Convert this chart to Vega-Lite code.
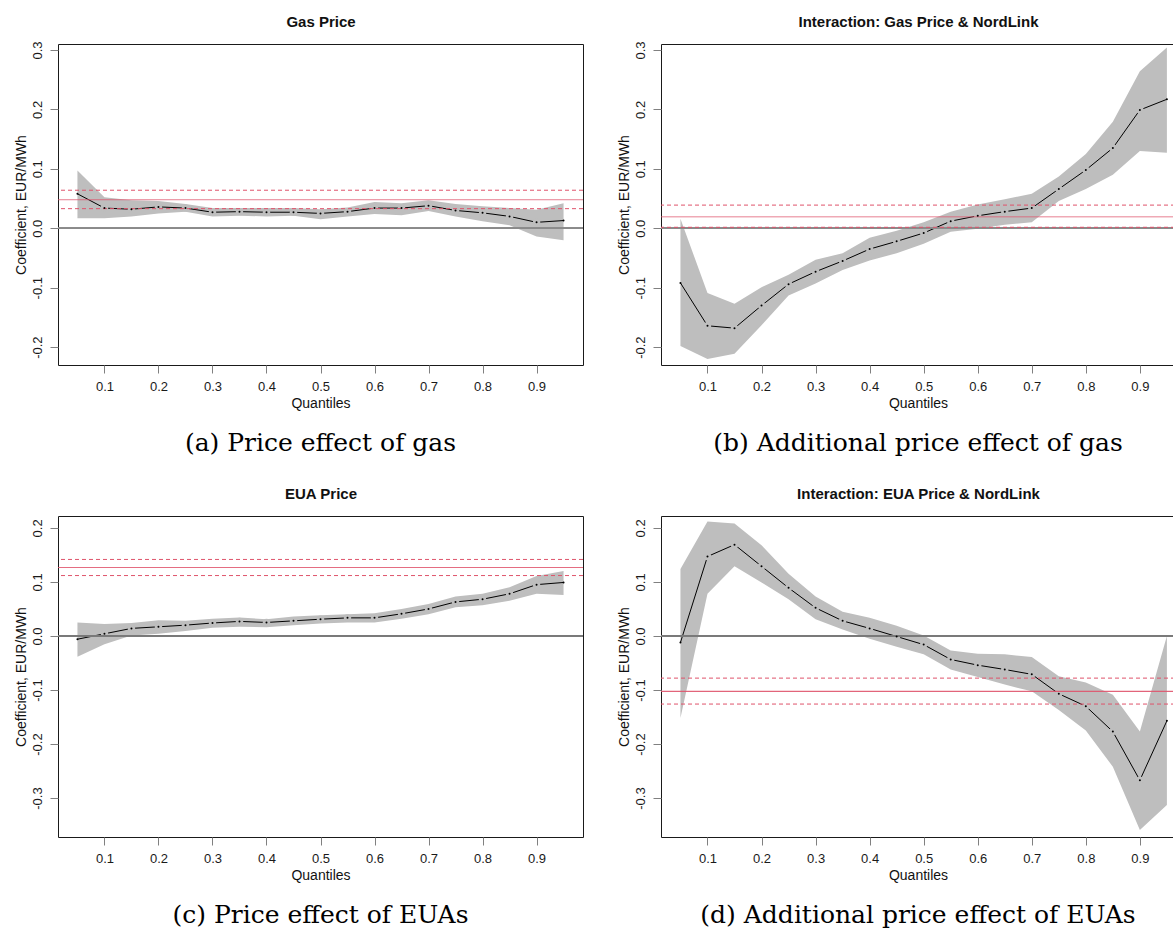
{
  "$schema": "https://vega.github.io/schema/vega-lite/v6.json",
  "padding": {"left": 14, "top": 13, "right": 0, "bottom": 0},
  "background": "white",
  "datasets": {
    "a": [
      {"q": 0.05, "est": 0.058, "lo": 0.017, "hi": 0.097},
      {"q": 0.10, "est": 0.034, "lo": 0.017, "hi": 0.052},
      {"q": 0.15, "est": 0.032, "lo": 0.020, "hi": 0.047},
      {"q": 0.20, "est": 0.036, "lo": 0.025, "hi": 0.046},
      {"q": 0.25, "est": 0.034, "lo": 0.028, "hi": 0.041},
      {"q": 0.30, "est": 0.027, "lo": 0.020, "hi": 0.034},
      {"q": 0.35, "est": 0.028, "lo": 0.021, "hi": 0.034},
      {"q": 0.40, "est": 0.027, "lo": 0.020, "hi": 0.034},
      {"q": 0.45, "est": 0.027, "lo": 0.021, "hi": 0.034},
      {"q": 0.50, "est": 0.025, "lo": 0.015, "hi": 0.032},
      {"q": 0.55, "est": 0.028, "lo": 0.020, "hi": 0.035},
      {"q": 0.60, "est": 0.034, "lo": 0.024, "hi": 0.044},
      {"q": 0.65, "est": 0.034, "lo": 0.022, "hi": 0.042},
      {"q": 0.70, "est": 0.038, "lo": 0.029, "hi": 0.047},
      {"q": 0.75, "est": 0.030, "lo": 0.020, "hi": 0.041},
      {"q": 0.80, "est": 0.026, "lo": 0.012, "hi": 0.037},
      {"q": 0.85, "est": 0.020, "lo": 0.005, "hi": 0.034},
      {"q": 0.90, "est": 0.010, "lo": -0.014, "hi": 0.031},
      {"q": 0.95, "est": 0.013, "lo": -0.020, "hi": 0.042}
    ],
    "ra": [{"ols": 0.048, "ols_lo": 0.033, "ols_hi": 0.064}],
    "b": [
      {"q": 0.05, "est": -0.092, "lo": -0.198, "hi": 0.016},
      {"q": 0.10, "est": -0.164, "lo": -0.220, "hi": -0.109},
      {"q": 0.15, "est": -0.168, "lo": -0.211, "hi": -0.127},
      {"q": 0.20, "est": -0.130, "lo": -0.163, "hi": -0.099},
      {"q": 0.25, "est": -0.094, "lo": -0.113, "hi": -0.078},
      {"q": 0.30, "est": -0.073, "lo": -0.093, "hi": -0.053},
      {"q": 0.35, "est": -0.055, "lo": -0.070, "hi": -0.042},
      {"q": 0.40, "est": -0.035, "lo": -0.054, "hi": -0.016},
      {"q": 0.45, "est": -0.022, "lo": -0.042, "hi": -0.004},
      {"q": 0.50, "est": -0.008, "lo": -0.026, "hi": 0.010},
      {"q": 0.55, "est": 0.012, "lo": -0.006, "hi": 0.028},
      {"q": 0.60, "est": 0.021, "lo": -0.001, "hi": 0.040},
      {"q": 0.65, "est": 0.028, "lo": 0.006, "hi": 0.049},
      {"q": 0.70, "est": 0.034, "lo": 0.010, "hi": 0.058},
      {"q": 0.75, "est": 0.066, "lo": 0.046, "hi": 0.087},
      {"q": 0.80, "est": 0.098, "lo": 0.066, "hi": 0.125},
      {"q": 0.85, "est": 0.135, "lo": 0.090, "hi": 0.179},
      {"q": 0.90, "est": 0.199, "lo": 0.130, "hi": 0.264},
      {"q": 0.95, "est": 0.217, "lo": 0.127, "hi": 0.304}
    ],
    "rb": [{"ols": 0.0196, "ols_lo": 0.0017, "ols_hi": 0.039}],
    "c": [
      {"q": 0.05, "est": -0.006, "lo": -0.0385, "hi": 0.025},
      {"q": 0.10, "est": 0.004, "lo": -0.0155, "hi": 0.022},
      {"q": 0.15, "est": 0.014, "lo": 0.001, "hi": 0.024},
      {"q": 0.20, "est": 0.017, "lo": 0.004, "hi": 0.029},
      {"q": 0.25, "est": 0.020, "lo": 0.009, "hi": 0.028},
      {"q": 0.30, "est": 0.024, "lo": 0.015, "hi": 0.032},
      {"q": 0.35, "est": 0.027, "lo": 0.017, "hi": 0.034},
      {"q": 0.40, "est": 0.025, "lo": 0.016, "hi": 0.031},
      {"q": 0.45, "est": 0.028, "lo": 0.020, "hi": 0.036},
      {"q": 0.50, "est": 0.031, "lo": 0.023, "hi": 0.0385},
      {"q": 0.55, "est": 0.0335, "lo": 0.025, "hi": 0.040},
      {"q": 0.60, "est": 0.0335, "lo": 0.025, "hi": 0.042},
      {"q": 0.65, "est": 0.041, "lo": 0.032, "hi": 0.050},
      {"q": 0.70, "est": 0.050, "lo": 0.040, "hi": 0.059},
      {"q": 0.75, "est": 0.063, "lo": 0.053, "hi": 0.073},
      {"q": 0.80, "est": 0.068, "lo": 0.057, "hi": 0.078},
      {"q": 0.85, "est": 0.078, "lo": 0.065, "hi": 0.090},
      {"q": 0.90, "est": 0.095, "lo": 0.078, "hi": 0.111},
      {"q": 0.95, "est": 0.099, "lo": 0.076, "hi": 0.120}
    ],
    "rc": [{"ols": 0.1267, "ols_lo": 0.1118, "ols_hi": 0.1416}],
    "d": [
      {"q": 0.05, "est": -0.012, "lo": -0.152, "hi": 0.124},
      {"q": 0.10, "est": 0.147, "lo": 0.078, "hi": 0.212},
      {"q": 0.15, "est": 0.169, "lo": 0.129, "hi": 0.208},
      {"q": 0.20, "est": 0.129, "lo": 0.099, "hi": 0.168},
      {"q": 0.25, "est": 0.089, "lo": 0.068, "hi": 0.115},
      {"q": 0.30, "est": 0.052, "lo": 0.031, "hi": 0.073},
      {"q": 0.35, "est": 0.028, "lo": 0.012, "hi": 0.045},
      {"q": 0.40, "est": 0.014, "lo": -0.005, "hi": 0.0335},
      {"q": 0.45, "est": -0.001, "lo": -0.020, "hi": 0.019},
      {"q": 0.50, "est": -0.016, "lo": -0.034, "hi": 0.001},
      {"q": 0.55, "est": -0.0435, "lo": -0.062, "hi": -0.027},
      {"q": 0.60, "est": -0.054, "lo": -0.076, "hi": -0.033},
      {"q": 0.65, "est": -0.062, "lo": -0.090, "hi": -0.034},
      {"q": 0.70, "est": -0.071, "lo": -0.1025, "hi": -0.039},
      {"q": 0.75, "est": -0.107, "lo": -0.137, "hi": -0.0745},
      {"q": 0.80, "est": -0.130, "lo": -0.175, "hi": -0.086},
      {"q": 0.85, "est": -0.177, "lo": -0.242, "hi": -0.109},
      {"q": 0.90, "est": -0.267, "lo": -0.359, "hi": -0.177},
      {"q": 0.95, "est": -0.157, "lo": -0.313, "hi": 0.000}
    ],
    "rd": [{"ols": -0.1025, "ols_lo": -0.126, "ols_hi": -0.078}]
  },
  "vconcat": [
    {
      "hconcat": [
        {
          "title": {"text": "(a) Price effect of gas"},
          "width": 525, "height": 321,
          "data": {"name": "a"},
          "resolve": {"axis": {"x": "independent"}},
          "layer": [
            {"mark": {"type": "area", "color": "#bebebe", "opacity": 1},
             "encoding": {
               "x": {"field": "q", "type": "quantitative", "scale": {"domain": [0.014, 0.986], "nice": false, "zero": false},
                     "axis": {"title": "Quantiles", "values": [0.1,0.2,0.3,0.4,0.5,0.6,0.7,0.8,0.9], "labelExpr": "format(datum.value, '.1f')"}},
               "y": {"field": "lo", "type": "quantitative", "scale": {"domain": [-0.23, 0.31], "nice": false, "zero": false},
                     "axis": {"title": "Coefficient, EUR/MWh", "values": [-0.2,-0.1,0,0.1,0.2,0.3], "labelExpr": "datum.value < 0 ? '-' + format(-datum.value, '.1f') : format(datum.value, '.1f')"}},
               "y2": {"field": "hi"}}},
            {"mark": {"type": "line", "color": "black", "strokeWidth": 1},
             "encoding": {"x": {"field": "q", "type": "quantitative", "axis": {"orient": "top", "title": "Gas Price", "labels": false, "ticks": false, "domain": false, "titleFontWeight": "bold", "titleFontSize": 15, "titlePadding": 15}}, "y": {"field": "est", "type": "quantitative"}}},
            {"transform": [{"filter": "datum.q > 0.06 && datum.q < 0.94"}],
             "mark": {"type": "point", "filled": true, "color": "#bebebe", "size": 55, "opacity": 1},
             "encoding": {"x": {"field": "q", "type": "quantitative", "axis": null}, "y": {"field": "est", "type": "quantitative"}}},
            {"mark": {"type": "rule", "color": "#8a8a8a", "strokeWidth": 1.3},
             "encoding": {"y": {"datum": 0}}},
            {"data": {"name": "ra"}, "mark": {"type": "rule", "color": "#df536b", "strokeWidth": 1, "opacity": 0.75},
             "encoding": {"y": {"field": "ols", "type": "quantitative"}}},
            {"data": {"name": "ra"}, "mark": {"type": "rule", "color": "#df536b", "strokeWidth": 1, "strokeDash": [4, 3]},
             "encoding": {"y": {"field": "ols_lo", "type": "quantitative"}}},
            {"data": {"name": "ra"}, "mark": {"type": "rule", "color": "#df536b", "strokeWidth": 1, "strokeDash": [4, 3]},
             "encoding": {"y": {"field": "ols_hi", "type": "quantitative"}}},
            {"mark": {"type": "point", "filled": true, "color": "black", "size": 4, "opacity": 1},
             "encoding": {"x": {"field": "q", "type": "quantitative", "axis": null}, "y": {"field": "est", "type": "quantitative"}}}
          ]
        },
        {
          "title": {"text": "(b) Additional price effect of gas"},
          "width": 514, "height": 321,
          "data": {"name": "b"},
          "resolve": {"axis": {"x": "independent"}},
          "layer": [
            {"mark": {"type": "area", "color": "#bebebe", "opacity": 1},
             "encoding": {
               "x": {"field": "q", "type": "quantitative", "scale": {"domain": [0.014, 0.965], "nice": false, "zero": false},
                     "axis": {"title": "Quantiles", "values": [0.1,0.2,0.3,0.4,0.5,0.6,0.7,0.8,0.9], "labelExpr": "format(datum.value, '.1f')"}},
               "y": {"field": "lo", "type": "quantitative", "scale": {"domain": [-0.23, 0.31], "nice": false, "zero": false},
                     "axis": {"title": "Coefficient, EUR/MWh", "values": [-0.2,-0.1,0,0.1,0.2,0.3], "labelExpr": "datum.value < 0 ? '-' + format(-datum.value, '.1f') : format(datum.value, '.1f')"}},
               "y2": {"field": "hi"}}},
            {"mark": {"type": "line", "color": "black", "strokeWidth": 1},
             "encoding": {"x": {"field": "q", "type": "quantitative", "axis": {"orient": "top", "title": "Interaction: Gas Price & NordLink", "labels": false, "ticks": false, "domain": false, "titleFontWeight": "bold", "titleFontSize": 15, "titlePadding": 15}}, "y": {"field": "est", "type": "quantitative"}}},
            {"transform": [{"filter": "datum.q > 0.06 && datum.q < 0.94"}],
             "mark": {"type": "point", "filled": true, "color": "#bebebe", "size": 55, "opacity": 1},
             "encoding": {"x": {"field": "q", "type": "quantitative", "axis": null}, "y": {"field": "est", "type": "quantitative"}}},
            {"mark": {"type": "rule", "color": "#8a8a8a", "strokeWidth": 1.3},
             "encoding": {"y": {"datum": 0}}},
            {"data": {"name": "rb"}, "mark": {"type": "rule", "color": "#df536b", "strokeWidth": 1.5, "opacity": 0.5},
             "encoding": {"y": {"field": "ols", "type": "quantitative"}}},
            {"data": {"name": "rb"}, "mark": {"type": "rule", "color": "#df536b", "strokeWidth": 1, "strokeDash": [4, 3]},
             "encoding": {"y": {"field": "ols_lo", "type": "quantitative"}}},
            {"data": {"name": "rb"}, "mark": {"type": "rule", "color": "#df536b", "strokeWidth": 1, "strokeDash": [4, 3]},
             "encoding": {"y": {"field": "ols_hi", "type": "quantitative"}}},
            {"mark": {"type": "point", "filled": true, "color": "black", "size": 4, "opacity": 1},
             "encoding": {"x": {"field": "q", "type": "quantitative", "axis": null}, "y": {"field": "est", "type": "quantitative"}}}
          ]
        }
      ],
      "spacing": 32
    },
    {
      "hconcat": [
        {
          "title": {"text": "(c) Price effect of EUAs"},
          "width": 525, "height": 321,
          "data": {"name": "c"},
          "resolve": {"axis": {"x": "independent"}},
          "layer": [
            {"mark": {"type": "area", "color": "#bebebe", "opacity": 1},
             "encoding": {
               "x": {"field": "q", "type": "quantitative", "scale": {"domain": [0.014, 0.986], "nice": false, "zero": false},
                     "axis": {"title": "Quantiles", "values": [0.1,0.2,0.3,0.4,0.5,0.6,0.7,0.8,0.9], "labelExpr": "format(datum.value, '.1f')"}},
               "y": {"field": "lo", "type": "quantitative", "scale": {"domain": [-0.372, 0.222], "nice": false, "zero": false},
                     "axis": {"title": "Coefficient, EUR/MWh", "values": [-0.3,-0.2,-0.1,0,0.1,0.2], "labelExpr": "datum.value < 0 ? '-' + format(-datum.value, '.1f') : format(datum.value, '.1f')"}},
               "y2": {"field": "hi"}}},
            {"mark": {"type": "line", "color": "black", "strokeWidth": 1},
             "encoding": {"x": {"field": "q", "type": "quantitative", "axis": {"orient": "top", "title": "EUA Price", "labels": false, "ticks": false, "domain": false, "titleFontWeight": "bold", "titleFontSize": 15, "titlePadding": 15}}, "y": {"field": "est", "type": "quantitative"}}},
            {"transform": [{"filter": "datum.q > 0.06 && datum.q < 0.94"}],
             "mark": {"type": "point", "filled": true, "color": "#bebebe", "size": 55, "opacity": 1},
             "encoding": {"x": {"field": "q", "type": "quantitative", "axis": null}, "y": {"field": "est", "type": "quantitative"}}},
            {"mark": {"type": "rule", "color": "#7a7a7a", "strokeWidth": 1.2},
             "encoding": {"y": {"datum": 0}}},
            {"data": {"name": "rc"}, "mark": {"type": "rule", "color": "#df536b", "strokeWidth": 1, "opacity": 0.85},
             "encoding": {"y": {"field": "ols", "type": "quantitative"}}},
            {"data": {"name": "rc"}, "mark": {"type": "rule", "color": "#df536b", "strokeWidth": 1, "strokeDash": [4, 3]},
             "encoding": {"y": {"field": "ols_lo", "type": "quantitative"}}},
            {"data": {"name": "rc"}, "mark": {"type": "rule", "color": "#df536b", "strokeWidth": 1, "strokeDash": [4, 3]},
             "encoding": {"y": {"field": "ols_hi", "type": "quantitative"}}},
            {"mark": {"type": "point", "filled": true, "color": "black", "size": 4, "opacity": 1},
             "encoding": {"x": {"field": "q", "type": "quantitative", "axis": null}, "y": {"field": "est", "type": "quantitative"}}}
          ]
        },
        {
          "title": {"text": "(d) Additional price effect of EUAs"},
          "width": 514, "height": 321,
          "data": {"name": "d"},
          "resolve": {"axis": {"x": "independent"}},
          "layer": [
            {"mark": {"type": "area", "color": "#bebebe", "opacity": 1},
             "encoding": {
               "x": {"field": "q", "type": "quantitative", "scale": {"domain": [0.014, 0.965], "nice": false, "zero": false},
                     "axis": {"title": "Quantiles", "values": [0.1,0.2,0.3,0.4,0.5,0.6,0.7,0.8,0.9], "labelExpr": "format(datum.value, '.1f')"}},
               "y": {"field": "lo", "type": "quantitative", "scale": {"domain": [-0.372, 0.222], "nice": false, "zero": false},
                     "axis": {"title": "Coefficient, EUR/MWh", "values": [-0.3,-0.2,-0.1,0,0.1,0.2], "labelExpr": "datum.value < 0 ? '-' + format(-datum.value, '.1f') : format(datum.value, '.1f')"}},
               "y2": {"field": "hi"}}},
            {"mark": {"type": "line", "color": "black", "strokeWidth": 1},
             "encoding": {"x": {"field": "q", "type": "quantitative", "axis": {"orient": "top", "title": "Interaction: EUA Price & NordLink", "labels": false, "ticks": false, "domain": false, "titleFontWeight": "bold", "titleFontSize": 15, "titlePadding": 15}}, "y": {"field": "est", "type": "quantitative"}}},
            {"transform": [{"filter": "datum.q > 0.06 && datum.q < 0.94"}],
             "mark": {"type": "point", "filled": true, "color": "#bebebe", "size": 55, "opacity": 1},
             "encoding": {"x": {"field": "q", "type": "quantitative", "axis": null}, "y": {"field": "est", "type": "quantitative"}}},
            {"mark": {"type": "rule", "color": "#7a7a7a", "strokeWidth": 1.2},
             "encoding": {"y": {"datum": 0}}},
            {"data": {"name": "rd"}, "mark": {"type": "rule", "color": "#df536b", "strokeWidth": 1.2, "opacity": 0.9},
             "encoding": {"y": {"field": "ols", "type": "quantitative"}}},
            {"data": {"name": "rd"}, "mark": {"type": "rule", "color": "#df536b", "strokeWidth": 1, "strokeDash": [4, 3]},
             "encoding": {"y": {"field": "ols_lo", "type": "quantitative"}}},
            {"data": {"name": "rd"}, "mark": {"type": "rule", "color": "#df536b", "strokeWidth": 1, "strokeDash": [4, 3]},
             "encoding": {"y": {"field": "ols_hi", "type": "quantitative"}}},
            {"mark": {"type": "point", "filled": true, "color": "black", "size": 4, "opacity": 1},
             "encoding": {"x": {"field": "q", "type": "quantitative", "axis": null}, "y": {"field": "est", "type": "quantitative"}}}
          ]
        }
      ],
      "spacing": 32
    }
  ],
  "spacing": 28,
  "config": {
    "font": "Liberation Sans",
    "view": {"stroke": "#1a1a1a", "strokeWidth": 1},
    "axis": {"grid": false, "domain": false, "ticks": true, "tickColor": "#808080", "tickSize": 8, "tickWidth": 1,
             "labelFont": "Liberation Sans", "labelFontSize": 13, "labelColor": "#1a1a1a", "labelOverlap": false,
             "titleFont": "Liberation Sans", "titleFontSize": 14, "titleFontWeight": "normal", "titleColor": "#111"},
    "axisX": {"labelPadding": 7, "titlePadding": 3, "labelFlush": false},
    "axisY": {"labelAngle": -90, "labelAlign": "center", "labelBaseline": "alphabetic", "labelPadding": 8.5, "titlePadding": 2.6},
    "title": {"orient": "bottom", "anchor": "middle", "frame": "group", "font": "DejaVu Serif", "fontSize": 25, "fontWeight": "normal", "color": "#000", "offset": 21}
  }
}
